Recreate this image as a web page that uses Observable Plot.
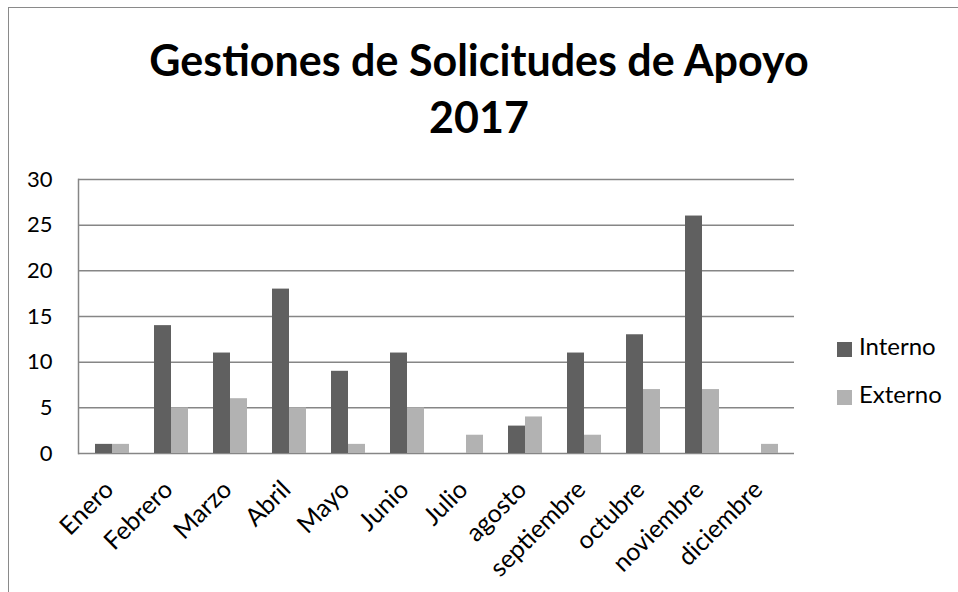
<!DOCTYPE html>
<html>
<head>
<meta charset="utf-8">
<script src="https://cdn.jsdelivr.net/npm/d3@7"></script>
<script src="https://cdn.jsdelivr.net/npm/@observablehq/plot@0.6"></script>
<style>
  html, body { margin: 0; padding: 0; background: #fff; width: 958px; height: 592px; overflow: hidden; }
  #frame { position: absolute; left: 8px; top: 7px; width: 980px; height: 620px; border: 1.5px solid #8a8a8a; box-sizing: border-box; }
  #title { position: absolute; left: 0; top: 31px; width: 958px; text-align: center; font-family: Lato, sans-serif; font-weight: 700; font-size: 43px; line-height: 57px; color: #000; }
  #chart { position: absolute; left: 0; top: 150px; }
  .leg { position: absolute; font-family: Lato, sans-serif; font-size: 24px; line-height: normal; color: #000; white-space: nowrap; }
  .sw { position: absolute; width: 15px; height: 15px; }
</style>
</head>
<body>
<div id="frame"></div>
<div id="title">Gestiones de Solicitudes de Apoyo<br>2017</div>
<div id="chart"></div>
<div id="legend"></div>
<script>
const months = ["Enero","Febrero","Marzo","Abril","Mayo","Junio","Julio","agosto","septiembre","octubre","noviembre","diciembre"];
const interno = [1,14,11,18,9,11,0,3,11,13,26,0];
const externo = [1,5,6,5,1,5,2,4,2,7,7,1];
const seriesNames = ["Interno","Externo"];
const seriesColors = ["#606060","#b2b2b2"];
const yTicks = [0,5,10,15,20,25,30];

const dataI = months.map((m,i) => ({month: m, value: interno[i]}));
const dataE = months.map((m,i) => ({month: m, value: externo[i]}));

const plot = Plot.plot({
  width: 958,
  height: 442,
  marginLeft: 78,
  marginRight: 164,
  marginTop: 29,
  marginBottom: 139,
  style: {fontFamily: "Lato, sans-serif", fontSize: "22px", color: "#000", background: "transparent", overflow: "visible"},
  x: {domain: months, paddingInner: 0.43, paddingOuter: 0.215, label: null},
  y: {domain: [0,30], ticks: yTicks, label: null},
  marks: [
    Plot.gridY(yTicks, {stroke: "#868686", strokeOpacity: 1, strokeWidth: 1.5}),
    Plot.frame({anchor: "left", stroke: "#868686", strokeWidth: 1.5}),
    Plot.barY(dataI, {x: "month", y: "value", fill: seriesColors[0], insetRight: 17}),
    Plot.barY(dataE, {x: "month", y: "value", fill: seriesColors[1], insetLeft: 17}),
    Plot.axisY({ticks: yTicks, tickSize: 0, tickPadding: 26, fontSize: 22, fill: "#000"}),
    Plot.axisX({tickSize: 0, tickRotate: -45, tickPadding: 32, dx: -3, fontSize: 25, fill: "#000"})
  ]
});
document.getElementById("chart").appendChild(plot);

const legend = document.getElementById("legend");
seriesNames.forEach((name, i) => {
  const sw = document.createElement("div");
  sw.className = "sw";
  sw.style.left = "837px";
  sw.style.top = (342 + i * 48) + "px";
  sw.style.background = seriesColors[i];
  legend.appendChild(sw);
  const t = document.createElement("div");
  t.className = "leg";
  t.style.left = "859px";
  t.style.top = (331 + i * 48) + "px";
  t.textContent = name;
  legend.appendChild(t);
});
</script>
</body>
</html>
